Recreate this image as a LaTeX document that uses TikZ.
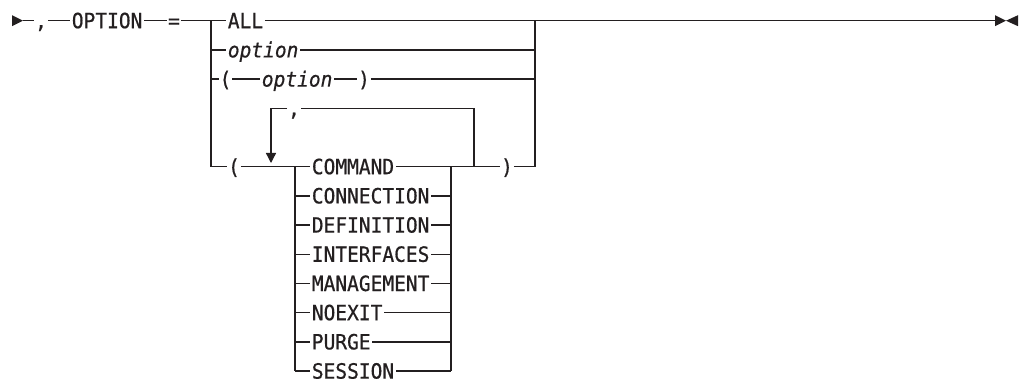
\documentclass[tikz,border=0pt]{standalone}
\usepackage{fontspec}
\usepackage{tikz}
\usetikzlibrary{arrows.meta,positioning}
\newfontfamily\railfont[FakeStretch=0.93,FakeBold=0.6]{DejaVu Sans Mono}
\definecolor{railInk}{HTML}{231F20}

\begin{document}
\begin{tikzpicture}[x=1pt,y=-1pt, line width=1.3pt]
\tikzset{kw/.style={inner xsep=1.2pt, inner ysep=0pt, text height=15pt, text depth=0pt,
  font={\railfont\fontsize{21}{24}\selectfont}, text=railInk, anchor=west},
 var/.style={kw, font={\railfont\itshape\fontsize{21}{24}\selectfont}},
 sym/.style={kw, anchor=center, inner xsep=0.3pt},
 rail/.style={draw=railInk},
 loopback/.style={rail, -{Triangle[length=10pt,width=10pt]}}}
\useasboundingbox (0,0) rectangle (1024,382);

% main line
\coordinate (in) at (23,20.7);
\node[sym] (comma) at (41,20.7) {,};
\node[kw] (optkw) at (70,20.7) {OPTION};
\node[sym] (eq) at (174,20.7) {=};
\coordinate (lbar) at (211,20.7);
\node[kw] (all) at (226,20.7) {ALL};
\coordinate (rbar) at (535,20.7);
\coordinate (out) at (995,20.7);

% single values
\node[var] (optv) at (226,49.9) {option};
\node[sym] (lpa) at (225.5,79.1) {(};
\node[var] (optp) at (260,79.1) {option};
\node[sym] (rpa) at (364,79.1) {)};

% repeatable list
\node[sym] (sep) at (294,108.3) {,};
\node[sym] (lpb) at (234,166.7) {(};
\coordinate (tip) at (271,163);
\coordinate (cl) at (295,166.7);
\coordinate (cr) at (451,166.7);
\coordinate (rep) at (474,166.7);
\node[sym] (rpb) at (507,166.7) {)};
\foreach \w [count=\i from 0] in {COMMAND,CONNECTION,DEFINITION,INTERFACES,MANAGEMENT,NOEXIT,PURGE,SESSION}
  \node[kw] (c\i) at (310,166.7+29.2*\i) {\w};

\fill[railInk] (in) -- ++(-11,-5.5) -- ++(0,11) -- cycle;
\draw[rail] (in) -- (comma) -- (optkw) -- (eq) -- (all) -- (rbar) -- (out);
\fill[railInk] (out) ++(0,-5.5) -- ++(11,5.5) -- ++(-11,5.5) -- cycle;
\fill[railInk] (out) ++(23,-5.5) -- ++(-12,5.5) -- ++(12,5.5) -- cycle;

\draw[rail] (lbar) |- (lpb);
\draw[rail] (lbar |- optv) -- (optv) -- (rbar |- optv);
\draw[rail] (lbar |- lpa) -- (lpa) -- (optp) -- (rpa) -- (rbar |- rpa);
\draw[rail] (rbar) -- (rbar |- rpb);

\draw[rail] (lpb) -- (c0) -- (rpb) -| (rbar);
\draw[rail] (cl) -- (cl |- c7);
\draw[rail] (cr) -- (cr |- c7);
\foreach \i in {1,...,7}
  \draw[rail] (cl |- c\i) -- (c\i) -- (cr |- c\i);
\draw[rail] (rep) |- (sep);
\draw[loopback] (sep) -| (tip);
\end{tikzpicture}
\end{document}
